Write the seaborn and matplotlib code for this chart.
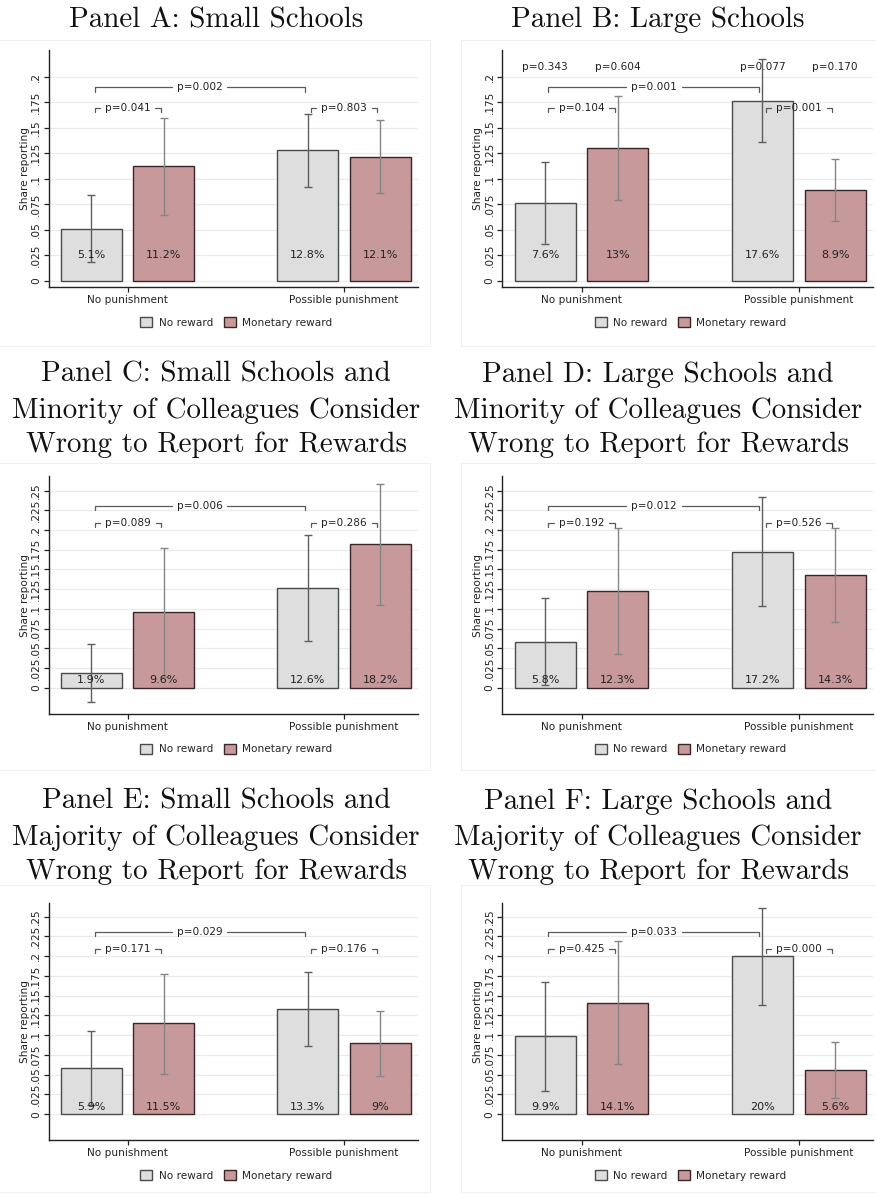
import pandas as pd
import matplotlib
matplotlib.use("Agg")
import matplotlib.pyplot as plt
import seaborn as sns
from matplotlib.patches import Patch, Rectangle

# --- DATA ---
punish_levels = ["No punishment", "Possible punishment"]
reward_levels = ["No reward", "Monetary reward"]

# order of the four bars: (no pun, no rew), (no pun, money), (pun, no rew), (pun, money)
share_A = [0.051, 0.112, 0.128, 0.121]
lo_A = [0.0186, 0.064, 0.0918, 0.0856]
hi_A = [0.0843, 0.159, 0.163, 0.157]
pval_A = ["0.041", "0.803", "0.002"]   # within no-pun, within pun, across no-reward

share_B = [0.076, 0.130, 0.176, 0.089]
lo_B = [0.0363, 0.079, 0.1356, 0.0588]
hi_B = [0.1163, 0.181, 0.217, 0.119]
pval_B = ["0.104", "0.001", "0.001"]
top_pval_B = ["0.343", "0.604", "0.077", "0.170"]

share_C = [0.019, 0.096, 0.126, 0.182]
lo_C = [-0.0178, 0.014, 0.0592, 0.1053]
hi_C = [0.0558, 0.1768, 0.1933, 0.2585]
pval_C = ["0.089", "0.286", "0.006"]

share_D = [0.058, 0.123, 0.172, 0.143]
lo_D = [0.003, 0.0427, 0.1036, 0.0829]
hi_D = [0.1134, 0.203, 0.2415, 0.203]
pval_D = ["0.192", "0.526", "0.012"]

share_E = [0.059, 0.115, 0.133, 0.090]
lo_E = [0.012, 0.0506, 0.0864, 0.0489]
hi_E = [0.1058, 0.178, 0.1796, 0.1307]
pval_E = ["0.171", "0.176", "0.029"]

share_F = [0.099, 0.141, 0.200, 0.056]
lo_F = [0.0292, 0.0636, 0.1386, 0.0203]
hi_F = [0.1678, 0.2186, 0.2606, 0.0911]
pval_F = ["0.425", "0.000", "0.033"]

yticks_small = [0, .025, .05, .075, .1, .125, .15, .175, .2]
yticks_large = [0, .025, .05, .075, .1, .125, .15, .175, .2, .225, .25]

titles = {
    "A": ["Panel A: Small Schools"],
    "B": ["Panel B: Large Schools"],
    "C": ["Panel C: Small Schools and", "Minority of Colleagues Consider", "Wrong to Report for Rewards"],
    "D": ["Panel D: Large Schools and", "Minority of Colleagues Consider", "Wrong to Report for Rewards"],
    "E": ["Panel E: Small Schools and", "Majority of Colleagues Consider", "Wrong to Report for Rewards"],
    "F": ["Panel F: Large Schools and", "Majority of Colleagues Consider", "Wrong to Report for Rewards"],
}

# --- STYLE ---
fill_colors = ["#dedede", "#c8999b"]
edge_colors = ["#4a4a4a", "#3a2626"]
err_colors = ["#5e5e5e", "#858585"]
W, H = 876, 1195

sns.set_style("white")
plt.rcParams["font.family"] = ["DejaVu Sans"]

fig = plt.figure(figsize=(W / 100, H / 100), dpi=100)
renderer = fig.canvas.get_renderer()

col_left = [48.7, 502.3]
col_right = [418, 873]
col_center = [216, 658]
row_top = [50, 476, 902.7]
row_bottom = [287.3, 714, 1140.3]
title_base = [[27.3], [382, 418, 452], [808.7, 844.7, 878.7]]
box_rows = [(40, 346), (463, 770), (885, 1192)]
box_cols = [(-2, 430), (461, 880)]


def fmt_tick(t):
    return "0" if t == 0 else f"{t:g}".lstrip("0")


def draw_bracket(ax, x1, x2, y, txt, drop):
    xm = (x1 + x2) / 2
    t = ax.text(xm, y, "p=" + txt, ha="center", va="center", fontsize=7.6,
                color="#222222", zorder=5)
    bb = t.get_window_extent(renderer=renderer)
    inv = ax.transData.inverted()
    gx0 = inv.transform((bb.x0 - 5, bb.y0))[0]
    gx1 = inv.transform((bb.x1 + 5, bb.y0))[0]
    kw = dict(color="#5a5a5a", lw=0.9, zorder=4)
    ax.plot([x1, x1, gx0], [y - drop, y, y], **kw)
    ax.plot([gx1, x2, x2], [y, y, y - drop], **kw)


panels = [
    ("A", 0, 0, share_A, lo_A, hi_A, pval_A, None, yticks_small, (-0.0065, 0.226)),
    ("B", 0, 1, share_B, lo_B, hi_B, pval_B, top_pval_B, yticks_small, (-0.0065, 0.226)),
    ("C", 1, 0, share_C, lo_C, hi_C, pval_C, None, yticks_large, (-0.0334, 0.2686)),
    ("D", 1, 1, share_D, lo_D, hi_D, pval_D, None, yticks_large, (-0.0334, 0.2686)),
    ("E", 2, 0, share_E, lo_E, hi_E, pval_E, None, yticks_large, (-0.0330, 0.2677)),
    ("F", 2, 1, share_F, lo_F, hi_F, pval_F, None, yticks_large, (-0.0330, 0.2677)),
]

for key, r, c, share, lo, hi, pv, top_pv, yticks, ylim in panels:
    # faint frame of each exported panel
    bx0, bx1 = box_cols[c]
    by0, by1 = box_rows[r]
    fig.add_artist(Rectangle((bx0 / W, 1 - by1 / H), (bx1 - bx0) / W, (by1 - by0) / H,
                             transform=fig.transFigure, fill=False, ec="#f0f0f0", lw=0.8))
    for yb, line in zip(title_base[r], titles[key]):
        fig.text(col_center[c] / W, 1 - yb / H, line, ha="center", va="baseline",
                 fontsize=20.9, family="cmr10", color="#111111")

    left, right, top, bottom = col_left[c], col_right[c], row_top[r], row_bottom[r]
    ax = fig.add_axes([left / W, 1 - bottom / H, (right - left) / W, (bottom - top) / H])

    df = pd.DataFrame({
        "punish": [punish_levels[0]] * 2 + [punish_levels[1]] * 2,
        "reward": reward_levels * 2,
        "share": share,
    })
    sns.barplot(data=df, x="punish", y="share", hue="reward", order=punish_levels,
                hue_order=reward_levels, palette=fill_colors, width=0.67, gap=0.16,
                errorbar=None, legend=False, linewidth=1.0, saturation=1, ax=ax, zorder=2)

    ax.set_xlim(-0.365, 1.342)
    ax.set_ylim(*ylim)

    centers = {}
    for h, cont in enumerate(ax.containers):
        for g, bar in enumerate(cont):
            bar.set_edgecolor(edge_colors[h])
            bar.set_zorder(2)
            centers[(g, h)] = bar.get_x() + bar.get_width() / 2

    lab_y = 0.025 if r == 0 else 0.0095
    for i, (g, h) in enumerate([(0, 0), (0, 1), (1, 0), (1, 1)]):
        x = centers[(g, h)]
        ax.errorbar(x, share[i], yerr=[[share[i] - lo[i]], [hi[i] - share[i]]], fmt="none",
                    ecolor=err_colors[h], elinewidth=1.0, capsize=3, capthick=1.0, zorder=3)
        ax.text(x, lab_y, f"{share[i] * 100:g}%", ha="center", va="center",
                fontsize=8, color="#222222", zorder=4)
        if top_pv is not None:
            ax.text(x, 0.2098, "p=" + top_pv[i], ha="center", va="center",
                    fontsize=7.6, color="#222222", zorder=5)

    big_y = 0.1895 if r == 0 else 0.2302
    small_y = 0.1696 if r == 0 else 0.2095
    drop = 0.0042 if r == 0 else 0.005
    inset = 0.015
    draw_bracket(ax, centers[(0, 0)] + inset, centers[(0, 1)] - inset, small_y, pv[0], drop)
    draw_bracket(ax, centers[(1, 0)] + inset, centers[(1, 1)] - inset, small_y, pv[1], drop)
    draw_bracket(ax, centers[(0, 0)] + inset, centers[(1, 0)] - inset, big_y, pv[2], drop)

    ax.set_yticks(yticks, [fmt_tick(t) for t in yticks], rotation=90, va="center")
    ax.set_xticks([0, 1], punish_levels)
    ax.grid(axis="y", color="#ebebeb", lw=0.9, zorder=0)
    ax.grid(axis="x", visible=False)
    ax.set_axisbelow(True)
    ax.set_xlabel("")
    ax.set_ylabel("Share reporting", fontsize=7.6, labelpad=1, color="#222222")
    ax.tick_params(axis="both", labelsize=7.6, colors="#222222", length=3.5, width=0.9,
                   direction="out", left=True, bottom=True, pad=2)
    for side in ["top", "right"]:
        ax.spines[side].set_visible(False)
    for side in ["left", "bottom"]:
        ax.spines[side].set_color("#222222")
        ax.spines[side].set_linewidth(1.0)

    handles = [Patch(facecolor=fill_colors[k], edgecolor=edge_colors[k], lw=1.0)
               for k in range(2)]
    ax.legend(handles, reward_levels, loc="center", ncol=2, frameon=False, fontsize=7.6,
              bbox_to_anchor=(0.5 + 3 / (right - left), -35 / (bottom - top)),
              handlelength=1.15, handleheight=1.15, handletextpad=0.6, columnspacing=1.0)

fig.savefig("out.png", dpi=100, facecolor="white")
